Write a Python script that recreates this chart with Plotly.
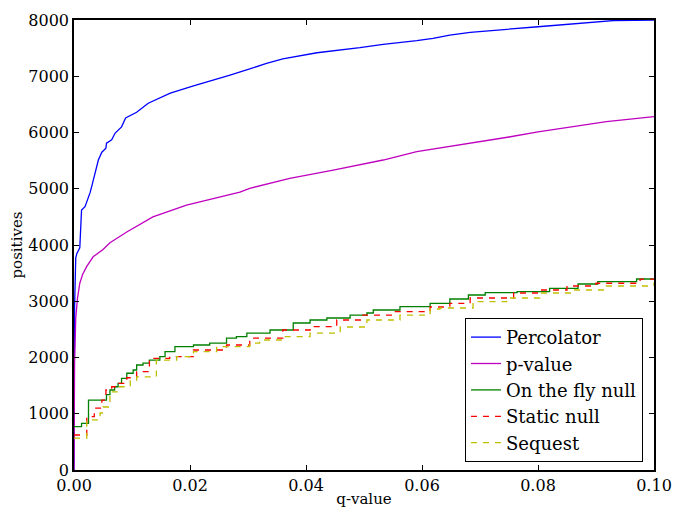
import plotly.graph_objects as go

# Percolator
perc_q = [0, 0.0001, 0.0003, 0.0005, 0.001, 0.0013, 0.0019, 0.0028, 0.0032, 0.0036, 0.0042, 0.0048,
          0.0055, 0.0056, 0.0065, 0.0071, 0.0082, 0.0089, 0.0108, 0.0128, 0.0148, 0.0166, 0.0206,
          0.024, 0.0269, 0.0303, 0.0332, 0.036, 0.0419, 0.0493, 0.0533, 0.0591, 0.0619, 0.0648,
          0.0683, 0.08, 0.0895, 0.093, 0.1]
perc_pos = [0, 2900, 3770, 3850, 3950, 4620, 4680, 4940, 5100, 5280, 5510, 5650,
            5720, 5810, 5870, 5990, 6100, 6260, 6360, 6520, 6610, 6700, 6830,
            6930, 7020, 7129, 7230, 7307, 7418, 7507, 7568, 7632, 7674, 7733,
            7781, 7880, 7970, 7990, 8000]

# p-value
pval_q = [0, 0.0001, 0.0003, 0.0006, 0.001, 0.0015, 0.0022, 0.0033, 0.005, 0.0062, 0.0091, 0.0136,
          0.0194, 0.0252, 0.0286, 0.0303, 0.0372, 0.0447, 0.0533, 0.0591, 0.0648, 0.0683, 0.075,
          0.08, 0.0843, 0.0918, 0.1]
pval_pos = [0, 1900, 2700, 3050, 3320, 3480, 3620, 3790, 3920, 4040, 4230, 4500,
            4710, 4850, 4940, 5008, 5186, 5333, 5511, 5659, 5748, 5808, 5920,
            6010, 6080, 6192, 6281]

# On the fly null
fly_q = [0, 0.0013, 0.0025, 0.0056, 0.0062, 0.007, 0.0076, 0.0082, 0.0091, 0.0102, 0.0108, 0.0119,
         0.013, 0.0148, 0.0157, 0.0174, 0.0206, 0.0234, 0.0263, 0.028, 0.0298, 0.0338, 0.0378,
         0.0407, 0.0436, 0.0476, 0.0505, 0.0516, 0.0562, 0.0614, 0.0648, 0.068, 0.0709, 0.0764,
         0.082, 0.0869, 0.0903, 0.097, 0.1]
fly_pos = [770, 830, 1244, 1340, 1422, 1480, 1540, 1630, 1720, 1778, 1867, 1900,
           1955, 2014, 2103, 2192, 2222, 2257, 2346, 2370, 2435, 2489, 2613,
           2667, 2702, 2755, 2791, 2844, 2903, 2963, 3040, 3111, 3152, 3170,
           3230, 3307, 3348, 3396, 3396]

# Static null
static_q = [0, 0.0022, 0.0035, 0.0048, 0.0055, 0.0065, 0.0076, 0.0091, 0.0108, 0.013, 0.0165,
            0.0206, 0.0263, 0.0303, 0.036, 0.0407, 0.0453, 0.0498, 0.055, 0.0614, 0.0648,
            0.0683, 0.0758, 0.0805, 0.085, 0.09, 0.0976, 0.1]
static_pos = [622, 948, 1100, 1244, 1422, 1480, 1540, 1640, 1748, 1985, 2014,
              2133, 2222, 2346, 2489, 2548, 2667, 2755, 2814, 2898, 2963,
              3058, 3147, 3200, 3271, 3320, 3395, 3395]

# Sequest
seq_q = [0, 0.0022, 0.0045, 0.005, 0.0062, 0.0079, 0.0097, 0.0108, 0.0142, 0.0177, 0.0206,
         0.0246, 0.0303, 0.032, 0.036, 0.0407, 0.0459, 0.0505, 0.0562, 0.0614, 0.0631,
         0.0688, 0.0746, 0.0803, 0.086, 0.0918, 0.1]
seq_pos = [568, 890, 1013, 1120, 1390, 1480, 1600, 1657, 1955, 2014, 2103,
           2192, 2257, 2311, 2370, 2435, 2542, 2667, 2755, 2862, 2880,
           2993, 3058, 3147, 3200, 3271, 3330]

x_ticks = [0, 0.02, 0.04, 0.06, 0.08, 0.10]
y_ticks = [0, 1000, 2000, 3000, 4000, 5000, 6000, 7000, 8000]

fig = go.Figure()
fig.add_trace(go.Scatter(x=perc_q, y=perc_pos, mode='lines', name='Percolator',
                         line=dict(color='#0000ff', width=1.3)))
fig.add_trace(go.Scatter(x=pval_q, y=pval_pos, mode='lines', name='p-value',
                         line=dict(color='#bf00bf', width=1.3)))
fig.add_trace(go.Scatter(x=fly_q, y=fly_pos, mode='lines', name='On the fly null',
                         line=dict(color='#008000', width=1.3, shape='hv')))
fig.add_trace(go.Scatter(x=static_q, y=static_pos, mode='lines', name='Static null',
                         line=dict(color='#ff0000', width=1.3, shape='hv', dash='6px,6px')))
fig.add_trace(go.Scatter(x=seq_q, y=seq_pos, mode='lines', name='Sequest',
                         line=dict(color='#bfbf00', width=1.3, shape='hv', dash='6px,6px')))

axis_style = dict(showgrid=False, zeroline=False, showline=True, linecolor='black', linewidth=1.5,
                  mirror='allticks', ticks='inside', ticklen=5, tickcolor='black',
                  tickfont=dict(size=16, color='black'), automargin=False)

fig.update_xaxes(range=[0, 0.1], tickvals=x_ticks, tickformat='.2f',
                 title=dict(text='q-value', font=dict(size=15, color='black'), standoff=0),
                 **axis_style)
fig.update_yaxes(range=[0, 8000], tickvals=y_ticks,
                 title=dict(text='positives', font=dict(size=15, color='black'), standoff=4),
                 **axis_style)

# the page body adds an 8px offset, so the figure is sized to fit the window
fig.update_layout(
    width=673, height=507,
    margin=dict(l=66, r=27, t=12, b=45),
    paper_bgcolor='white', plot_bgcolor='white',
    font=dict(family='DejaVu Serif', color='black'),
    legend=dict(x=0.981, y=0.018, xanchor='right', yanchor='bottom',
                bordercolor='black', borderwidth=1, bgcolor='white', itemwidth=30,
                font=dict(size=18, color='black'), tracegroupgap=0),
)

fig.write_html("out.html")
